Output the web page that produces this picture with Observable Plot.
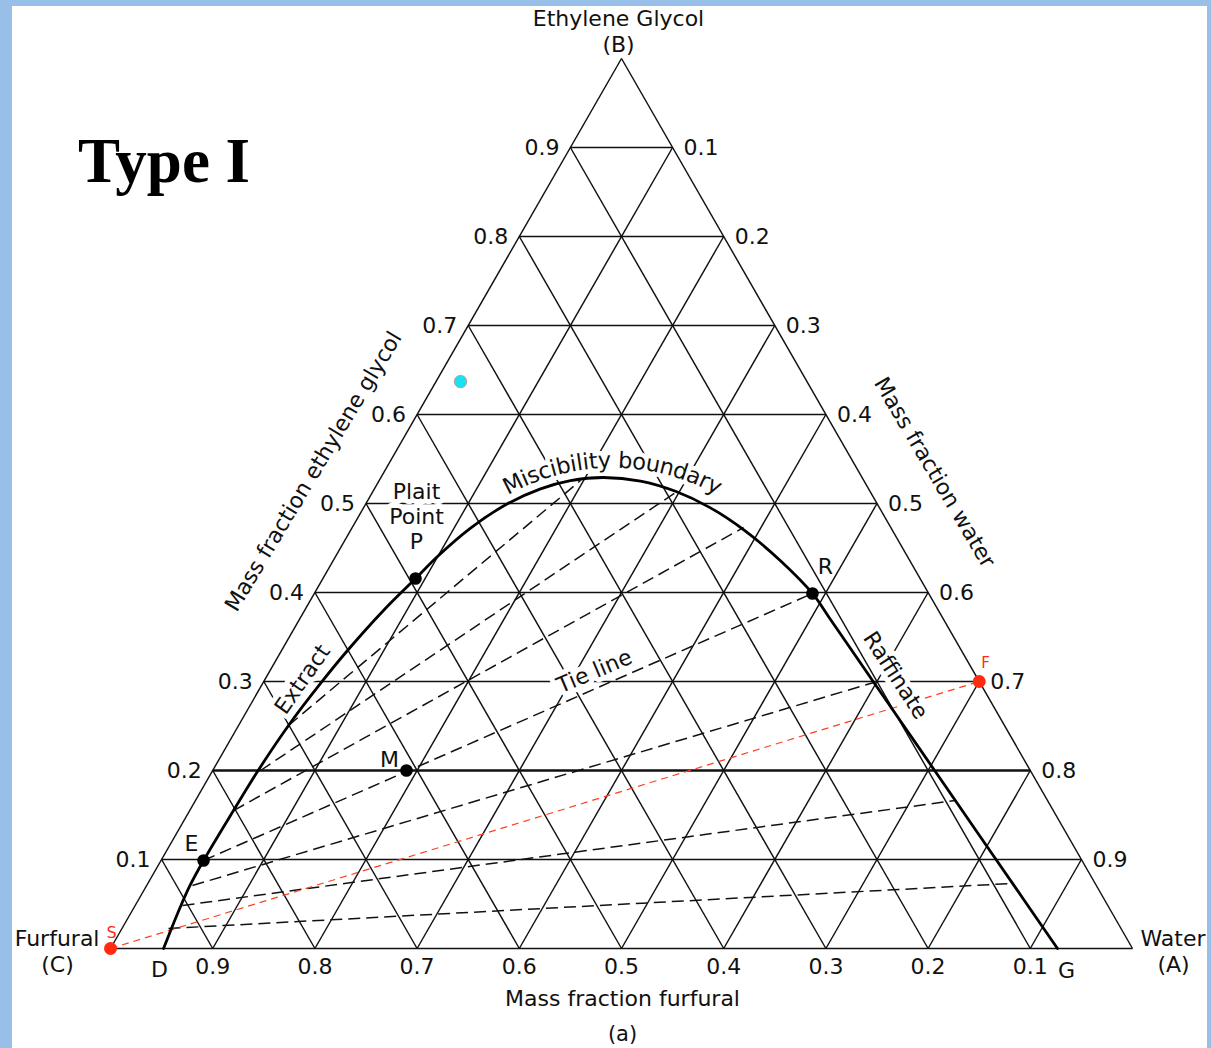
<!DOCTYPE html>
<html>
<head>
<meta charset="utf-8">
<script src="https://cdn.jsdelivr.net/npm/d3@7"></script>
<script src="https://cdn.jsdelivr.net/npm/@observablehq/plot@0.6"></script>
<style>
html,body{margin:0;padding:0;width:1211px;height:1048px;overflow:hidden;background:#97bfe8;}
#panel{position:absolute;left:12px;top:6px;width:1195px;height:1042px;background:#fff;}
#chart{position:absolute;left:0;top:0;}
#title{position:absolute;left:78px;top:130px;font:bold 63px/63px "Liberation Serif","Times New Roman",serif;color:#000;white-space:nowrap;}
svg text{paint-order:stroke;}
</style>
</head>
<body>
<div id="panel"></div>
<div id="chart"></div>
<div id="title">Type I</div>
<script>
// ---------------- data (mass fractions) ----------------
const levels = [0.1, 0.2, 0.3, 0.4, 0.5, 0.6, 0.7, 0.8, 0.9];
const leftTickLabels = ["0.1","0.2","0.3","0.4","0.5","0.6","0.7","0.8","0.9"];   // ethylene glycol
const rightTickLabels = ["0.9","0.8","0.7","0.6","0.5","0.4","0.3","0.2","0.1"];  // water
const bottomTickLabels = ["0.9","0.8","0.7","0.6","0.5","0.4","0.3","0.2","0.1"]; // furfural

// miscibility boundary (binodal): water (A) and glycol (B) mass fractions
const curveWater  = [0.0519, 0.0484, 0.0448, 0.0424, 0.0416, 0.0428, 0.0444, 0.0489, 0.0566, 0.0645, 0.0772, 0.0906,
                     0.0997, 0.1161, 0.1386, 0.1625, 0.1872, 0.2178, 0.2560, 0.2960, 0.3395, 0.3868, 0.4377,
                     0.4874, 0.5172, 0.5543, 0.5975, 0.6532, 0.7076, 0.7435, 0.8177, 0.8709, 0.9266];
const curveGlycol = [0, 0.0225, 0.0483, 0.0708, 0.0989, 0.1551, 0.1989, 0.2506, 0.2978, 0.3348, 0.3798, 0.4157,
                     0.4405, 0.4724, 0.4997, 0.5165, 0.5257, 0.5292, 0.5252, 0.5137, 0.4951, 0.4690, 0.4357,
                     0.3989, 0.3719, 0.3382, 0.2989, 0.2483, 0.1989, 0.1663, 0.0989, 0.0506, 0];

// tie lines: extract end and raffinate end
const tieExtractWater    = [0.0489, 0.0468, 0.0429, 0.0416, 0.0448, 0.0463, 0.0455];
const tieExtractGlycol   = [0.2506, 0.2,    0.155,  0.0989, 0.0708, 0.0483, 0.0225];
const tieRaffinateWater  = [0.197,  0.2985, 0.3829, 0.4874, 0.5975, 0.7435, 0.8441];
const tieRaffinateGlycol = [0.5258, 0.5146, 0.473,  0.3989, 0.2989, 0.1663, 0.073];

// labelled compositions
const pointNames  = ["P", "R", "M", "E"];
const pointWater  = [0.0906, 0.4874, 0.1896, 0.0416];
const pointGlycol = [0.4157, 0.3989, 0.2, 0.0989];

// solvent S and feed F
const feedNames  = ["S", "F"];
const feedWater  = [0, 0.7];
const feedGlycol = [0, 0.3];

// extra marker
const markerWater  = [0.024];
const markerGlycol = [0.637];

// ---------------- helpers ----------------
const X0 = 110, X1 = 1132, Y0 = 948, Y1 = 58;
const cx = (a, b) => a + b / 2;             // cartesian x from water & glycol
const fx = px => (px - X0) / (X1 - X0);     // pixel -> data (annotations)
const fy = py => (Y0 - py) / (Y0 - Y1);
const FONT = "'DejaVu Sans', 'Liberation Sans', sans-serif";
const INK = "#111";

const gridH = levels.map(v => ({x1: v / 2, y1: v, x2: 1 - v / 2, y2: v, v}));
const gridA = levels.map(v => ({x1: v, y1: 0, x2: v + (1 - v) / 2, y2: 1 - v}));
const gridC = levels.map(v => ({x1: 1 - v, y1: 0, x2: (1 - v) / 2, y2: 1 - v}));
const edges = [{x1: 0, y1: 0, x2: 1, y2: 0}, {x1: 0, y1: 0, x2: 0.5, y2: 1}, {x1: 1, y1: 0, x2: 0.5, y2: 1}];

const curve = curveWater.map((a, i) => ({x: cx(a, curveGlycol[i]), y: curveGlycol[i]}));
const ties = tieExtractWater.map((a, i) => ({
  x1: cx(a, tieExtractGlycol[i]), y1: tieExtractGlycol[i],
  x2: cx(tieRaffinateWater[i], tieRaffinateGlycol[i]), y2: tieRaffinateGlycol[i]
}));
const pts = pointNames.map((n, i) => ({name: n, x: cx(pointWater[i], pointGlycol[i]), y: pointGlycol[i]}));
const feeds = feedNames.map((n, i) => ({name: n, x: cx(feedWater[i], feedGlycol[i]), y: feedGlycol[i]}));
const marker = markerWater.map((a, i) => ({x: cx(a, markerGlycol[i]), y: markerGlycol[i]}));

const leftTicks = levels.map((v, i) => ({x: v / 2, y: v, t: leftTickLabels[i]}));
const rightTicks = levels.map((v, i) => ({x: 1 - v / 2, y: v, t: rightTickLabels[i]}));
const bottomTicks = levels.map((v, i) => ({x: v, y: 0, t: bottomTickLabels[i]}));

// annotation labels (pixel positions converted to data)
const L = (t, px, py, o = {}) => ({t, x: fx(px), y: fy(py), rot: o.rot || 0, size: o.size || 22,
  anchor: o.anchor || "middle", halo: !!o.halo, color: o.color || INK});
const labels = [
  L("Ethylene Glycol", 618, 18), L("(B)", 618, 44),
  L("Furfural", 99, 938, {anchor: "end"}), L("(C)", 57, 964),
  L("Water", 1140, 938, {anchor: "start"}), L("(A)", 1173, 964),
  L("Mass fraction furfural", 622, 998), L("(a)", 622, 1034, {size: 21}),
  L("Mass fraction ethylene glycol", 313, 471, {rot: -59}),
  L("Mass fraction water", 934, 472, {rot: 59.5}),
  L("Plait", 416, 491, {halo: true}), L("Point", 416, 516, {halo: true}), L("P", 416, 541, {halo: true}),
  L("Extract", 302, 679, {rot: -55, halo: true}),
  L("Raffinate", 895, 675, {rot: 57, halo: true}),
  L("Tie line", 594, 671, {rot: -23, halo: true}),
  L("R", 825, 566), L("M", 389, 759), L("E", 191, 843), L("D", 159, 969), L("G", 1066, 970),
  L("S", 111, 932, {size: 16, color: "#ff2a10"}), L("F", 985, 663, {size: 15, color: "#ff2a10"})
];

// curved "Miscibility boundary" label
const arcText = "Miscibility boundary";
const ARC_SIZE = 22.5;
const ctx = document.createElement("canvas").getContext("2d");
ctx.font = ARC_SIZE + "px 'DejaVu Sans'";
const widths = [...arcText].map(ch => ctx.measureText(ch).width);
const total = widths.reduce((s, w) => s + w, 0);
const ARC = {cx: 612, cy: 680, r: 213};
let acc = 0;
const arcChars = [...arcText].map((ch, i) => {
  const s = acc + widths[i] / 2 - total / 2; acc += widths[i];
  const rr = ARC.r + 7;
  const th = s / rr;
  return {t: ch, x: fx(ARC.cx + rr * Math.sin(th)), y: fy(ARC.cy - rr * Math.cos(th)), rot: th * 180 / Math.PI};
});

const haloLabels = labels.filter(d => d.halo);
const GRID_W = 1.45;

const chart = Plot.plot({
  width: 1211, height: 1048,
  marginLeft: X0, marginRight: 1211 - X1, marginTop: Y1, marginBottom: 1048 - Y0,
  x: {domain: [0, 1], axis: null},
  y: {domain: [0, 1], axis: null},
  style: {background: "transparent", fontFamily: FONT},
  marks: [
    Plot.link(gridH.filter(d => d.v !== 0.2), {x1: "x1", y1: "y1", x2: "x2", y2: "y2", stroke: INK, strokeWidth: GRID_W}),
    Plot.link(gridA, {x1: "x1", y1: "y1", x2: "x2", y2: "y2", stroke: INK, strokeWidth: GRID_W}),
    Plot.link(gridC, {x1: "x1", y1: "y1", x2: "x2", y2: "y2", stroke: INK, strokeWidth: GRID_W}),
    Plot.link(edges, {x1: "x1", y1: "y1", x2: "x2", y2: "y2", stroke: INK, strokeWidth: GRID_W}),
    Plot.link(gridH.filter(d => d.v === 0.2), {x1: "x1", y1: "y1", x2: "x2", y2: "y2", stroke: INK, strokeWidth: 2.6}),
    Plot.link(ties, {x1: "x1", y1: "y1", x2: "x2", y2: "y2", stroke: INK, strokeWidth: 1.5, strokeDasharray: "12,6"}),
    Plot.link([{x1: feeds[0].x, y1: feeds[0].y, x2: feeds[1].x, y2: feeds[1].y}],
      {x1: "x1", y1: "y1", x2: "x2", y2: "y2", stroke: "#ff4020", strokeWidth: 1.2, strokeDasharray: "7,5"}),
    // halos
    Plot.text(haloLabels, {x: "x", y: "y", text: "t", rotate: "rot", fontSize: 22, fill: "none", stroke: "white", strokeWidth: 10}),
    Plot.text(arcChars, {x: "x", y: "y", text: "t", rotate: "rot", fontSize: ARC_SIZE, fill: "none", stroke: "white", strokeWidth: 9}),
    // binodal curve
    Plot.line(curve, {x: "x", y: "y", curve: "catmull-rom", stroke: "#000", strokeWidth: 2.8}),
    // points
    Plot.dot(pts, {x: "x", y: "y", r: 6.3, fill: "#000"}),
    Plot.dot(feeds, {x: "x", y: "y", r: 6.5, fill: "#ff2a10"}),
    Plot.dot(marker, {x: "x", y: "y", r: 6.3, fill: "#19e3ee", stroke: "#f07060", strokeWidth: 0.6}),
    // ticks
    Plot.text(leftTicks, {x: "x", y: "y", text: "t", textAnchor: "end", dx: -11, fontSize: 22, fill: INK}),
    Plot.text(rightTicks, {x: "x", y: "y", text: "t", textAnchor: "start", dx: 11, fontSize: 22, fill: INK}),
    Plot.text(bottomTicks, {x: "x", y: "y", text: "t", dy: 18, fontSize: 22, fill: INK}),
    // labels
    ...labels.map(d => Plot.text([d], {x: "x", y: "y", text: "t", rotate: d.rot, fontSize: d.size,
      textAnchor: d.anchor, fill: d.color})),
    Plot.text(arcChars, {x: "x", y: "y", text: "t", rotate: "rot", fontSize: ARC_SIZE, fill: INK})
  ]
});
document.getElementById("chart").appendChild(chart);
</script>
</body>
</html>
